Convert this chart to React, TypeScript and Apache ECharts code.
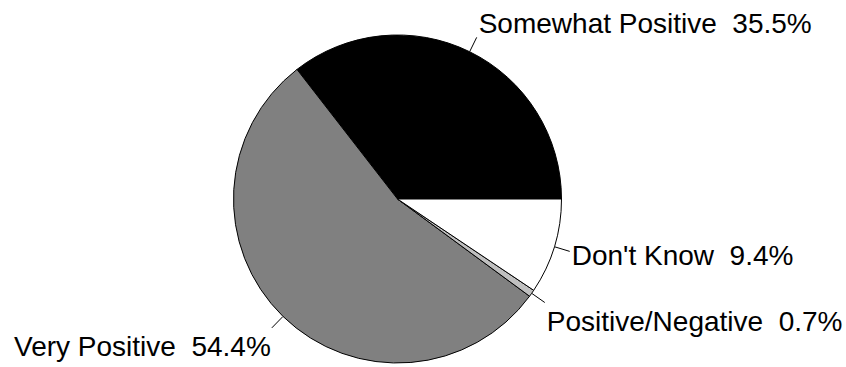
import { useEffect, useRef } from 'react';
import * as echarts from 'echarts';

// Survey response shares (percent of respondents)
const categories = ['Somewhat Positive', 'Very Positive', 'Positive/Negative', "Don't Know"];
const shares = [35.5, 54.4, 0.7, 9.4];
const sliceColors = ['#000000', '#808080', '#c0c0c0', '#ffffff'];

export default function App() {
  const ref = useRef<HTMLDivElement>(null);

  useEffect(() => {
    const chart = echarts.init(ref.current!, null, { renderer: 'svg' });
    chart.setOption({
      animation: false,
      backgroundColor: '#ffffff',
      series: [
        {
          type: 'pie',
          center: [397.5, 199],
          radius: 164,
          startAngle: 0,
          clockwise: false,
          avoidLabelOverlap: false,
          emphasis: { disabled: true },
          itemStyle: { borderColor: '#000000', borderWidth: 1 },
          label: {
            show: true,
            position: 'outside',
            formatter: '{b}  {c}%',
            color: '#000000',
            fontSize: 28,
            fontFamily: "'Liberation Sans', Arial, sans-serif",
          },
          labelLine: {
            show: true,
            length: 16,
            length2: 0,
            smooth: false,
            lineStyle: { color: '#000000', width: 1 },
          },
          // Put each label at the corner of its leader line, facing away from the pie
          labelLayout: (params: any) => {
            const pts = params.labelLinePoints;
            if (!pts || pts.length < 2) return {};
            const p0 = pts[0];
            const p1 = pts[1];
            const dx = p1[0] - p0[0];
            const dy = p1[1] - p0[1];
            const len = Math.hypot(dx, dy) || 1;
            const ux = dx / len;
            const uy = dy / len;
            const right = ux >= 0;
            const va = uy < -0.5 ? 'bottom' : uy > 0.5 ? 'top' : 'middle';
            const yShift = va === 'top' ? 5 : va === 'middle' ? 4 : 0;
            return {
              x: p1[0] + (right ? 2 : -1),
              y: p1[1] + yShift,
              align: right ? 'left' : 'right',
              verticalAlign: va,
              labelLinePoints: [p0, p1],
            };
          },
          data: categories.map((name, i) => ({
            name,
            value: shares[i],
            itemStyle: { color: sliceColors[i] },
          })),
        },
      ],
    });
    return () => chart.dispose();
  }, []);

  return (
    <div
      ref={ref}
      style={{ position: 'fixed', left: 0, top: 0, width: 846, height: 367 }}
    />
  );
}
